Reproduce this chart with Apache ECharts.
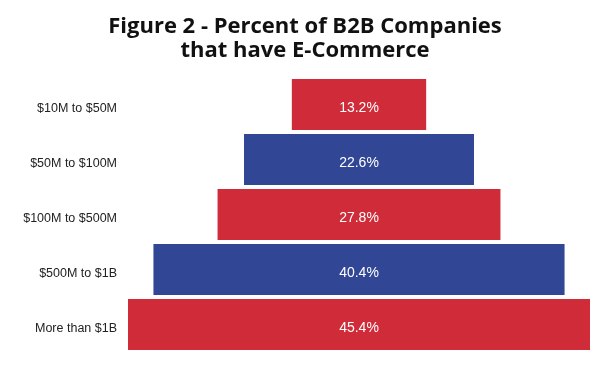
<!DOCTYPE html>
<html><head><meta charset="utf-8">
<script src="https://cdn.jsdelivr.net/npm/echarts@6/dist/echarts.min.js"></script>
<style>html,body{margin:0;padding:0;background:#fff}#c{width:600px;height:370px}</style>
</head><body><div id="c"></div>
<script>
const categories = ["$10M to $50M", "$50M to $100M", "$100M to $500M", "$500M to $1B", "More than $1B"];
const values = [13.2, 22.6, 27.8, 40.4, 45.4];
const barColors = ["#d02b38", "#314695", "#d02b38", "#314695", "#d02b38"];

const maxV = Math.max(...values);
const offsets = values.map(v => (maxV - v) / 2);

const chart = echarts.init(document.getElementById('c'));
chart.setOption({
  backgroundColor: '#fff',
  animation: false,
  title: {
    text: 'Figure 2 - Percent of B2B Companies\nthat have E-Commerce',
    left: 300, top: 10, textAlign: 'center',
    textStyle: { fontFamily: 'Open Sans', fontWeight: 'bold', fontSize: 22, lineHeight: 24, color: '#111' }
  },
  grid: { left: 128, right: 10, top: 77, bottom: 18 },
  xAxis: { type: 'value', min: 0, max: maxV, show: false },
  yAxis: {
    type: 'category', data: categories, inverse: true,
    axisLine: { show: false }, axisTick: { show: false },
    axisLabel: { margin: 11, color: '#222', fontFamily: 'Liberation Sans', fontSize: 12.5, verticalAlign: 'top', lineHeight: 8 }
  },
  series: [
    { type: 'bar', stack: 's', data: offsets, barWidth: 51, itemStyle: { color: 'transparent' }, silent: true },
    { type: 'bar', stack: 's', barWidth: 51,
      data: values.map((v, i) => ({ value: v, itemStyle: { color: barColors[i] } })),
      label: { show: true, position: 'inside', offset: [0, 4], color: '#fff', fontFamily: 'Liberation Sans', fontSize: 14,
        formatter: p => p.value.toFixed(1) + '%' } }
  ]
});
</script></body></html>
